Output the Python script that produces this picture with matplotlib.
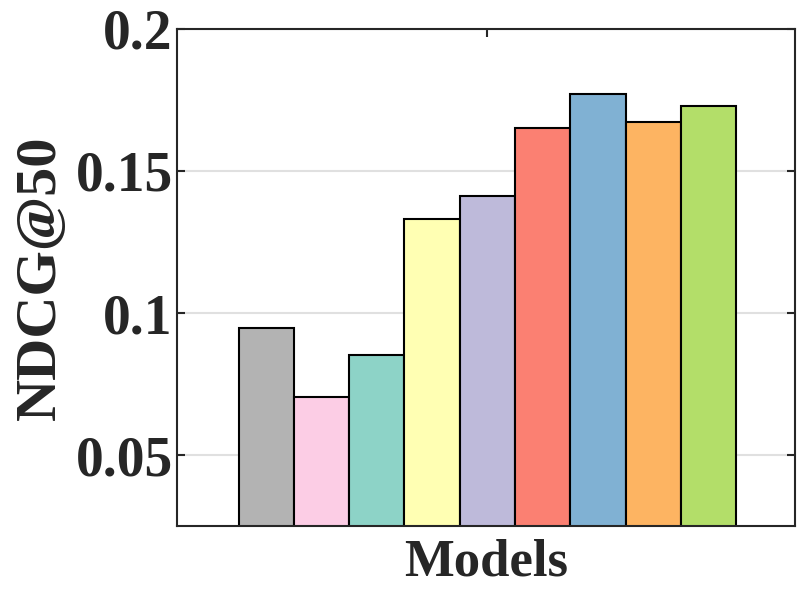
import matplotlib
matplotlib.use("Agg")
import matplotlib.pyplot as plt
import numpy as np

# bar values (one bar per model)
values = [0.0948, 0.0703, 0.0853, 0.1332, 0.1413, 0.1652, 0.1770, 0.1672, 0.1728]
colors = ["#b3b3b3", "#fccde5", "#8dd3c7", "#ffffb3", "#bebada",
          "#fb8072", "#80b1d3", "#fdb462", "#b3de69"]
yticks = [0.05, 0.1, 0.15, 0.2]
ytick_labels = ["0.05", "0.1", "0.15", "0.2"]

plt.rcParams["font.family"] = ["Liberation Serif", "DejaVu Serif"]
plt.rcParams["font.weight"] = "bold"

fig = plt.figure(figsize=(8, 6), dpi=100)
ax = fig.add_axes([0.221, 0.123, 0.773, 0.829])

x = np.arange(len(values))
ax.bar(x, values, width=1.0, color=colors, edgecolor="black", linewidth=1.5, zorder=3)

ax.set_xlim(-1.62, 9.57)
ax.set_ylim(0.025, 0.2)
ax.set_yticks(yticks)
ax.set_yticklabels(ytick_labels)
ax.set_xticks([4])
ax.set_xticklabels([""])

ax.yaxis.grid(True, color="#e0e0e0", linewidth=1.5, zorder=0)
ax.set_axisbelow(True)

ax.tick_params(direction="in", length=6, width=1.5, color="#262626",
               top=True, right=True, labelsize=40, pad=3, labelcolor="#262626")
for s in ax.spines.values():
    s.set_linewidth(1.5)
    s.set_color("#262626")
    s.set_zorder(5)

ax.set_xlabel("Models", fontsize=38, fontweight="bold", color="#262626", labelpad=6)
ax.set_ylabel("NDCG@50", fontsize=42, fontweight="bold", color="#262626")
ax.yaxis.set_label_coords(-0.178, 0.5)

fig.savefig("out.png", dpi=100)
